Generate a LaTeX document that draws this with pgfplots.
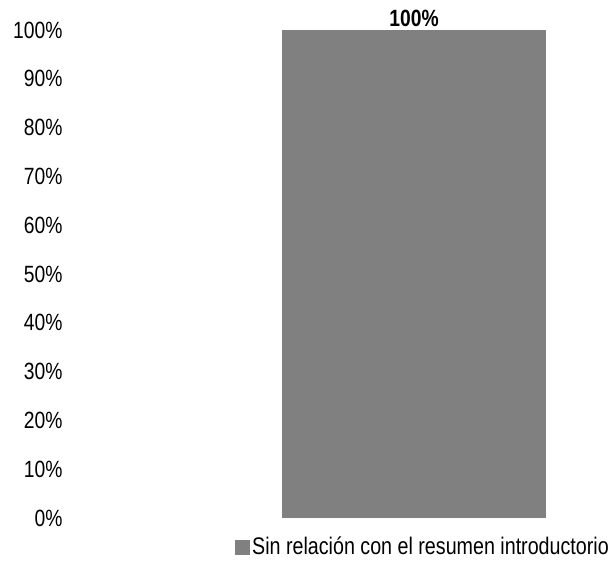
\documentclass[border=0pt]{standalone}
\usepackage{pgfplots}
\pgfplotsset{compat=1.18}
\usepackage{fontspec}
\setmainfont[FakeStretch=0.82]{Liberation Sans}
\definecolor{bargray}{RGB}{128,128,128}
\begin{document}
\begin{tikzpicture}
\path[use as bounding box] (-75pt,-46pt) rectangle (538pt,518pt);
\begin{axis}[
  at={(0pt,0pt)}, anchor=origin,
  scale only axis, width=538pt, height=488pt,
  xmin=0, xmax=538, ymin=0, ymax=100,
  axis line style={draw=none},
  ytick={0,10,...,100},
  yticklabel={\pgfmathprintnumber{\tick}\%},
  yticklabel style={font=\fontsize{23.5}{27}\selectfont, anchor=east},
  /pgf/number format/assume math mode=true,
  xtick=\empty,
  ytick style={draw=none},
  major tick length=0pt,
  every y tick label/.append style={xshift=-9pt},
  legend style={at={(536pt,-17pt)}, anchor=north east, draw=none, fill=none,
    font=\fontsize{24}{27}\selectfont, inner sep=0pt,
    /tikz/every even column/.append style={column sep=0pt}},
  legend cell align=left,
  legend image code/.code={\fill[#1] (-4pt,-8pt) rectangle (11pt,7pt);},
]
\addplot[ybar, bar width=264pt, fill=bargray, draw=none,
  nodes near coords={\textbf{\pgfmathprintnumber{\pgfplotspointmeta}\%}},
  nodes near coords style={font=\fontsize{23.5}{27}\selectfont, inner sep=3pt},
  ] coordinates {(339,100)};
\addlegendentry{Sin relación con el resumen introductorio}
\end{axis}
\end{tikzpicture}
\end{document}
